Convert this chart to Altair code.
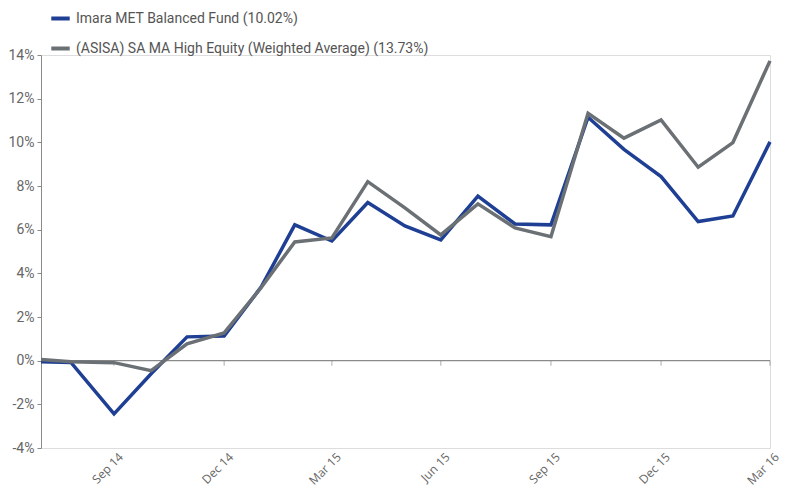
import altair as alt
import pandas as pd

dates = ["2014-07-31", "2014-08-25", "2014-09-30", "2014-10-31", "2014-11-30",
         "2014-12-31", "2015-01-31", "2015-02-28", "2015-03-31", "2015-04-30",
         "2015-05-31", "2015-06-30", "2015-07-31", "2015-08-31", "2015-09-30",
         "2015-10-31", "2015-11-30", "2015-12-31", "2016-01-31", "2016-02-29",
         "2016-03-31"]
fund = [-0.05, -0.08, -2.44, -0.6, 1.09, 1.13, 3.38, 6.22, 5.48, 7.24, 6.17,
        5.53, 7.54, 6.26, 6.22, 11.15, 9.68, 8.43, 6.37, 6.63, 10.02]
bench = [0.05, -0.05, -0.09, -0.46, 0.77, 1.27, 3.35, 5.44, 5.62, 8.2, 7.0,
         5.76, 7.18, 6.08, 5.68, 11.33, 10.19, 11.03, 8.86, 9.99, 13.73]
series_names = ["Imara MET Balanced Fund (10.02%)",
                "(ASISA) SA MA High Equity (Weighted Average) (13.73%)"]
series_colors = ["#1e3f93", "#6b7075"]
tick_dates = [(2014, 9, 30), (2014, 12, 31), (2015, 3, 31), (2015, 6, 30),
              (2015, 9, 30), (2015, 12, 31), (2016, 3, 31)]
y_ticks = [-4, -2, 0, 2, 4, 6, 8, 10, 12, 14]

rows = []
for d, v in zip(dates, fund):
    rows.append({"date": d + "T00:00:00", "value": v, "series": series_names[0], "order": 1})
for d, v in zip(dates, bench):
    rows.append({"date": d + "T00:00:00", "value": v, "series": series_names[1], "order": 0})
df = pd.DataFrame(rows)

tick_df = pd.DataFrame({"date": [f"{y:04d}-{m:02d}-{d:02d}T00:00:00" for y, m, d in tick_dates],
                        "zero": [0] * len(tick_dates)})

x_domain = [alt.DateTime(year=2014, month=7, date=31), alt.DateTime(year=2016, month=3, date=31)]
x_values = [alt.DateTime(year=y, month=m, date=d) for y, m, d in tick_dates]

x_scale = alt.Scale(domain=x_domain)
y_scale = alt.Scale(domain=[-4, 14], nice=False)

x_axis = alt.Axis(values=x_values, format="%b %y", labelAngle=-45, labelAlign="right",
                  labelBaseline="top", labelFont="Open Sans", labelFontSize=12,
                  labelColor="#666666", domain=False, ticks=False, grid=False,
                  labelPadding=3, labelOffset=3, title=None)
y_axis = alt.Axis(values=y_ticks, labelExpr="datum.value + '%'", labelFont="Roboto",
                  labelFontSize=14, labelColor="#666666", domainColor="#8a8a8a",
                  tickColor="#8a8a8a", tickSize=4, grid=False, title=None,
                  labelPadding=3)

zero_rule = alt.Chart(pd.DataFrame({"zero": [0]})).mark_rule(
    color="#8a8a8a", strokeWidth=1.2).encode(
    y=alt.Y("zero:Q", scale=y_scale, axis=y_axis))

zero_ticks = alt.Chart(tick_df).mark_tick(
    orient="vertical", size=5, thickness=1, color="#8a8a8a", yOffset=2.5).encode(
    x=alt.X("date:T", scale=x_scale, axis=x_axis),
    y=alt.Y("zero:Q", scale=y_scale, axis=y_axis))

lines = alt.Chart(df).mark_line(strokeWidth=3.5, strokeJoin="miter").encode(
    x=alt.X("date:T", scale=x_scale, axis=x_axis),
    y=alt.Y("value:Q", scale=y_scale, axis=y_axis),
    color=alt.Color("series:N",
                    scale=alt.Scale(domain=series_names, range=series_colors),
                    legend=alt.Legend(orient="none", legendX=8, legendY=-48, title=None,
                                      symbolType="stroke", symbolStrokeWidth=4,
                                      symbolSize=340, labelFontSize=14,
                                      labelColor="#555555", labelFont="Roboto",
                                      rowPadding=10, labelOffset=4, labelLimit=500)),
    order=alt.Order("order:Q"),
    detail="series:N")

chart = alt.layer(zero_rule, zero_ticks, lines).properties(
    width=729, height=393,
    autosize=alt.AutoSizeParams(type="none"),
    padding={"left": 33, "top": 47, "right": 12, "bottom": 42},
).configure_view(stroke=None).configure(background="white")

chart.save("out.html", embed_options={"renderer": "svg", "actions": False})
